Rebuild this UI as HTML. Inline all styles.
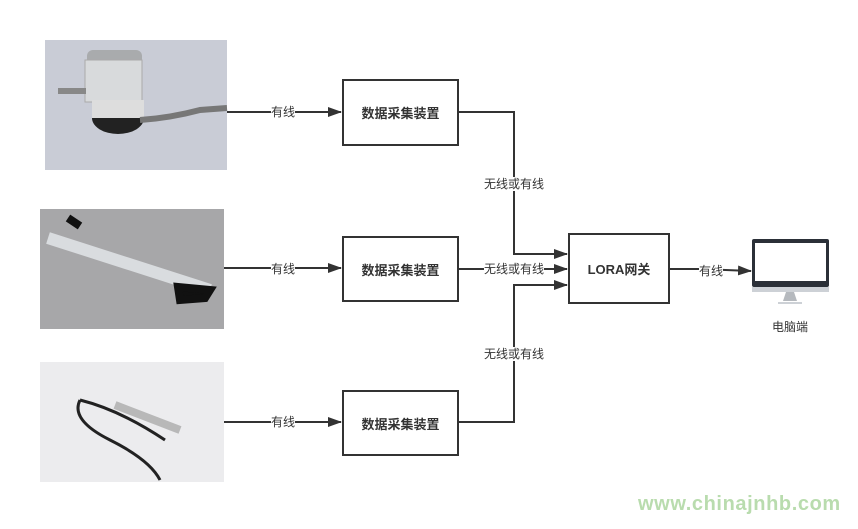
<!DOCTYPE html>
<html><head><meta charset="utf-8"><style>
body{margin:0;background:#fff;width:858px;height:529px;overflow:hidden;position:relative;font-family:"Liberation Sans","Noto Sans CJK SC",sans-serif}
.box{position:absolute;border:2px solid #333;box-sizing:border-box;display:flex;align-items:center;justify-content:center;font-weight:bold;font-size:13px;color:#333;background:#fff}
.lbl{position:absolute;font-size:12px;color:#333;background:#fff;transform:translate(-50%,-50%);white-space:nowrap;line-height:14px}
</style></head><body>
<svg width="858" height="529" style="position:absolute;left:0;top:0">
<defs><marker id="a" markerWidth="14" markerHeight="10" refX="13" refY="5" orient="auto" markerUnits="userSpaceOnUse"><path d="M0,0L14,5L0,10z" fill="#333"/></marker></defs>
<rect x="45" y="40" width="182" height="130" fill="#c9ccd6"/>
<rect x="87" y="50" width="55" height="30" rx="6" fill="#a9abad"/>
<rect x="85" y="60" width="57" height="42" fill="#d8dadc" stroke="#aaa"/>
<rect x="58" y="88" width="28" height="6" fill="#888"/>
<ellipse cx="118" cy="118" rx="26" ry="16" fill="#222"/>
<rect x="92" y="100" width="52" height="18" fill="#ddd"/>
<path d="M140,120 Q170,118 200,110 L227,108" stroke="#777" stroke-width="6" fill="none"/>
<rect x="40" y="209" width="184" height="120" fill="#a7a7a9"/>
<path d="M48,238 L210,290" stroke="#d9dcdf" stroke-width="12"/>
<path d="M68,218 L80,226 M178,287 L210,290 L205,298 L180,300z" stroke="#111" stroke-width="8" fill="#111"/>
<rect x="40" y="362" width="184" height="120" fill="#ececee"/>
<path d="M115,405 L180,430" stroke="#b8b8b8" stroke-width="8"/>
<path d="M80,400 Q70,420 110,440 Q150,460 160,480 M80,400 Q120,410 165,440" stroke="#222" stroke-width="3" fill="none"/>
<g stroke="#333" stroke-width="2" fill="none">
<line x1="227" y1="112" x2="341" y2="112" marker-end="url(#a)"/>
<line x1="224" y1="268" x2="341" y2="268" marker-end="url(#a)"/>
<line x1="224" y1="422" x2="341" y2="422" marker-end="url(#a)"/>
<polyline points="458,112 514,112 514,254 567,254" marker-end="url(#a)"/>
<line x1="458" y1="269" x2="567" y2="269" marker-end="url(#a)"/>
<polyline points="458,422 514,422 514,285 567,285" marker-end="url(#a)"/>
<polyline points="669,269 700,269 751,271" marker-end="url(#a)"/>
</g>
<rect x="752" y="239" width="77" height="48" rx="2" fill="#2b3038"/>
<rect x="755" y="243" width="71" height="38" fill="#fff"/>
<rect x="752" y="287" width="77" height="5" fill="#cdd1d6"/>
<path d="M786,292 L794,292 L797,301 L783,301z" fill="#b5b9be"/>
<rect x="778" y="302" width="24" height="2" fill="#cdd1d6"/>
</svg>
<div class="box" style="left:342px;top:79px;width:117px;height:67px">数据采集装置</div>
<div class="box" style="left:342px;top:236px;width:117px;height:66px">数据采集装置</div>
<div class="box" style="left:342px;top:390px;width:117px;height:66px">数据采集装置</div>
<div class="box" style="left:568px;top:233px;width:102px;height:71px">LORA网关</div>
<div class="lbl" style="left:283px;top:112px">有线</div>
<div class="lbl" style="left:283px;top:269px">有线</div>
<div class="lbl" style="left:283px;top:422px">有线</div>
<div class="lbl" style="left:514px;top:184px">无线或有线</div>
<div class="lbl" style="left:514px;top:269px">无线或有线</div>
<div class="lbl" style="left:514px;top:354px">无线或有线</div>
<div class="lbl" style="left:711px;top:271px">有线</div>
<div class="lbl" style="left:790px;top:327px">电脑端</div>
<div style="position:absolute;left:638px;top:493px;font-size:20px;font-weight:bold;color:#b9dcae;letter-spacing:0.6px">www.chinajnhb.com</div>
</body></html>
